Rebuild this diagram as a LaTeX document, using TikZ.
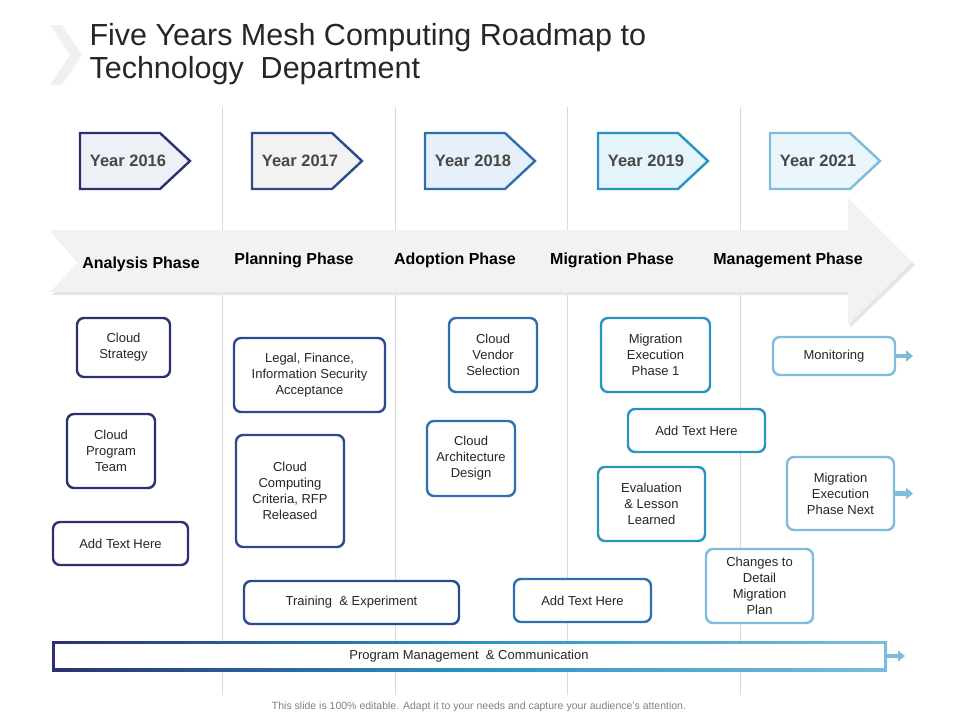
\documentclass[tikz,border=0pt]{standalone}
\usepackage{fontspec}
\setmainfont{Liberation Sans}
\usetikzlibrary{arrows.meta,shadows}
\definecolor{ca}{HTML}{2B3170}
\definecolor{cb}{HTML}{2C4A8E}
\definecolor{cc}{HTML}{2E6FAE}
\definecolor{cd}{HTML}{2A93C2}
\definecolor{ce}{HTML}{7DBCDB}
\definecolor{fa}{HTML}{EEF0F8}
\definecolor{fb}{HTML}{F2F2F2}
\definecolor{fc}{HTML}{E6F0FA}
\definecolor{fd}{HTML}{E3F4FA}
\definecolor{fe}{HTML}{EAF6FB}
\definecolor{txt}{HTML}{262626}
\begin{document}
\begin{tikzpicture}[x=1pt,y=-1pt,
  bx/.style={draw, line width=2.4pt, rounded corners=7pt, fill=white, align=center, inner sep=2pt,
    font=\fontsize{13}{16}\selectfont, text=txt, drop shadow={opacity=0.12,shadow xshift=1pt,shadow yshift=-1pt}},
  yr/.style={line width=2.4pt, line join=miter},
  yrt/.style={font=\bfseries\fontsize{16.5}{18}\selectfont, text=txt!85},
  ph/.style={font=\bfseries\fontsize{16}{18}\selectfont, text=black},
  sep/.style={draw=black!15, line width=0.6pt},
  sarr/.style={-{Triangle[length=7pt,width=11pt]}, line width=4.5pt}]
\useasboundingbox (0,0) rectangle (960,720);
% title
\fill[black!6] (50,25) -- (62,25) -- (82,55) -- (62,85) -- (50,85) -- (70,55) -- cycle;
\node[anchor=west, font=\fontsize{30.5}{33}\selectfont, text=black!85, align=left] (title) at (86,54) {Five Years Mesh Computing Roadmap to\\Technology\ \ Department};
% separators
\foreach \xx [count=\i] in {222,395,567,740} \draw[sep] (\xx,107) coordinate (s\i) -- (\xx,695);
% big arrow
\fill[black!10] (52,233) -- (850,233) -- (850,201) -- (915,265) -- (850,328) -- (850,295) -- (52,295) -- (80,265) -- cycle;
\fill[fb] (50,230) -- (848,230) -- (848,198) -- (912,262) -- (848,325) -- (848,292) -- (50,292) -- (78,262) -- cycle;
\node[ph] (p1) at (141,264) {Analysis Phase};
\node[ph] (p2) at (294,260) {Planning Phase};
\node[ph] (p3) at (455,260) {Adoption Phase};
\node[ph] (p4) at (612,260) {Migration Phase};
\node[ph] (p5) at (788,260) {Management Phase};
% year boxes
\foreach \xo/\dc/\fc/\lab [count=\i] in {80/ca/fa/2016, 252/cb/fb/2017, 425/cc/fc/2018, 598/cd/fd/2019, 770/ce/fe/2021}{
  \draw[yr, draw=\dc, fill=\fc] (\xo,133) -- (\xo+80,133) -- (\xo+110,161) -- (\xo+80,189) -- (\xo,189) -- cycle;
  \node[yrt] (y\i) at (\xo+48,161) {Year \lab};
}
% boxes
\node[bx, draw=ca, minimum width=93pt, minimum height=59pt] (a1) at (123.5,347.5) {Cloud\\Strategy};
\node[bx, draw=ca, minimum width=88pt, minimum height=74pt] (a2) at (111,451) {Cloud\\Program\\Team};
\node[bx, draw=ca, minimum width=135pt, minimum height=43pt] (a3) at (120.5,543.5) {Add Text Here};
\node[bx, draw=cb, minimum width=151pt, minimum height=74pt] (b1) at (309.5,375) {Legal, Finance,\\Information Security\\Acceptance};
\node[bx, draw=cb, minimum width=108pt, minimum height=112pt] (b2) at (290,491) {Cloud\\Computing\\Criteria, RFP\\Released};
\node[bx, draw=cb, minimum width=215pt, minimum height=43pt] (b3) at (351.5,602.5) {Training \ \& Experiment};
\node[bx, draw=cc, minimum width=88pt, minimum height=74pt] (c1) at (493,355) {Cloud\\Vendor\\Selection};
\node[bx, draw=cc, minimum width=88pt, minimum height=75pt] (c2) at (471,458.5) {Cloud\\Architecture\\Design};
\node[bx, draw=cc, minimum width=137pt, minimum height=43pt] (c3) at (582.5,600.5) {Add Text Here};
\node[bx, draw=cd, minimum width=109pt, minimum height=74pt] (d1) at (655.5,355) {Migration\\Execution\\Phase 1};
\node[bx, draw=cd, minimum width=137pt, minimum height=43pt] (d2) at (696.5,430.5) {Add Text Here};
\node[bx, draw=cd, minimum width=107pt, minimum height=74pt] (d3) at (651.5,504) {Evaluation\\\& Lesson\\Learned};
\node[bx, draw=ce, minimum width=107pt, minimum height=74pt] (e1) at (759.5,586) {Changes to\\Detail\\Migration\\Plan};
\node[bx, draw=ce, minimum width=122pt, minimum height=38pt] (e2) at (834,356) {Monitoring};
\node[bx, draw=ce, minimum width=107pt, minimum height=73pt] (e3) at (840.5,493.5) {Migration\\Execution\\Phase Next};
\coordinate (t2) at (913,356);
\coordinate (t3) at (913,493.5);
\draw[sarr, ce] (e2.east) -- (t2);
\draw[sarr, ce] (e3.east) -- (t3);
% program bar
\shade[left color=ca, right color=ce, middle color=cd] (52,641) rectangle (887,671);
\fill[white] (55,644) rectangle (884,668);
\node[font=\fontsize{13}{14}\selectfont, text=txt] (pm) at (469,656) {Program Management \ \& Communication};
\coordinate (pe) at (887,656);
\coordinate (pt) at (905,656);
\draw[sarr, ce] (pe) -- (pt);
% footer
\node[font=\fontsize{10.5}{12}\selectfont, text=black!50] (ft) at (479,707) {This slide is 100\% editable. Adapt it to your needs and capture your audience's attention.};
\end{tikzpicture}
\end{document}
